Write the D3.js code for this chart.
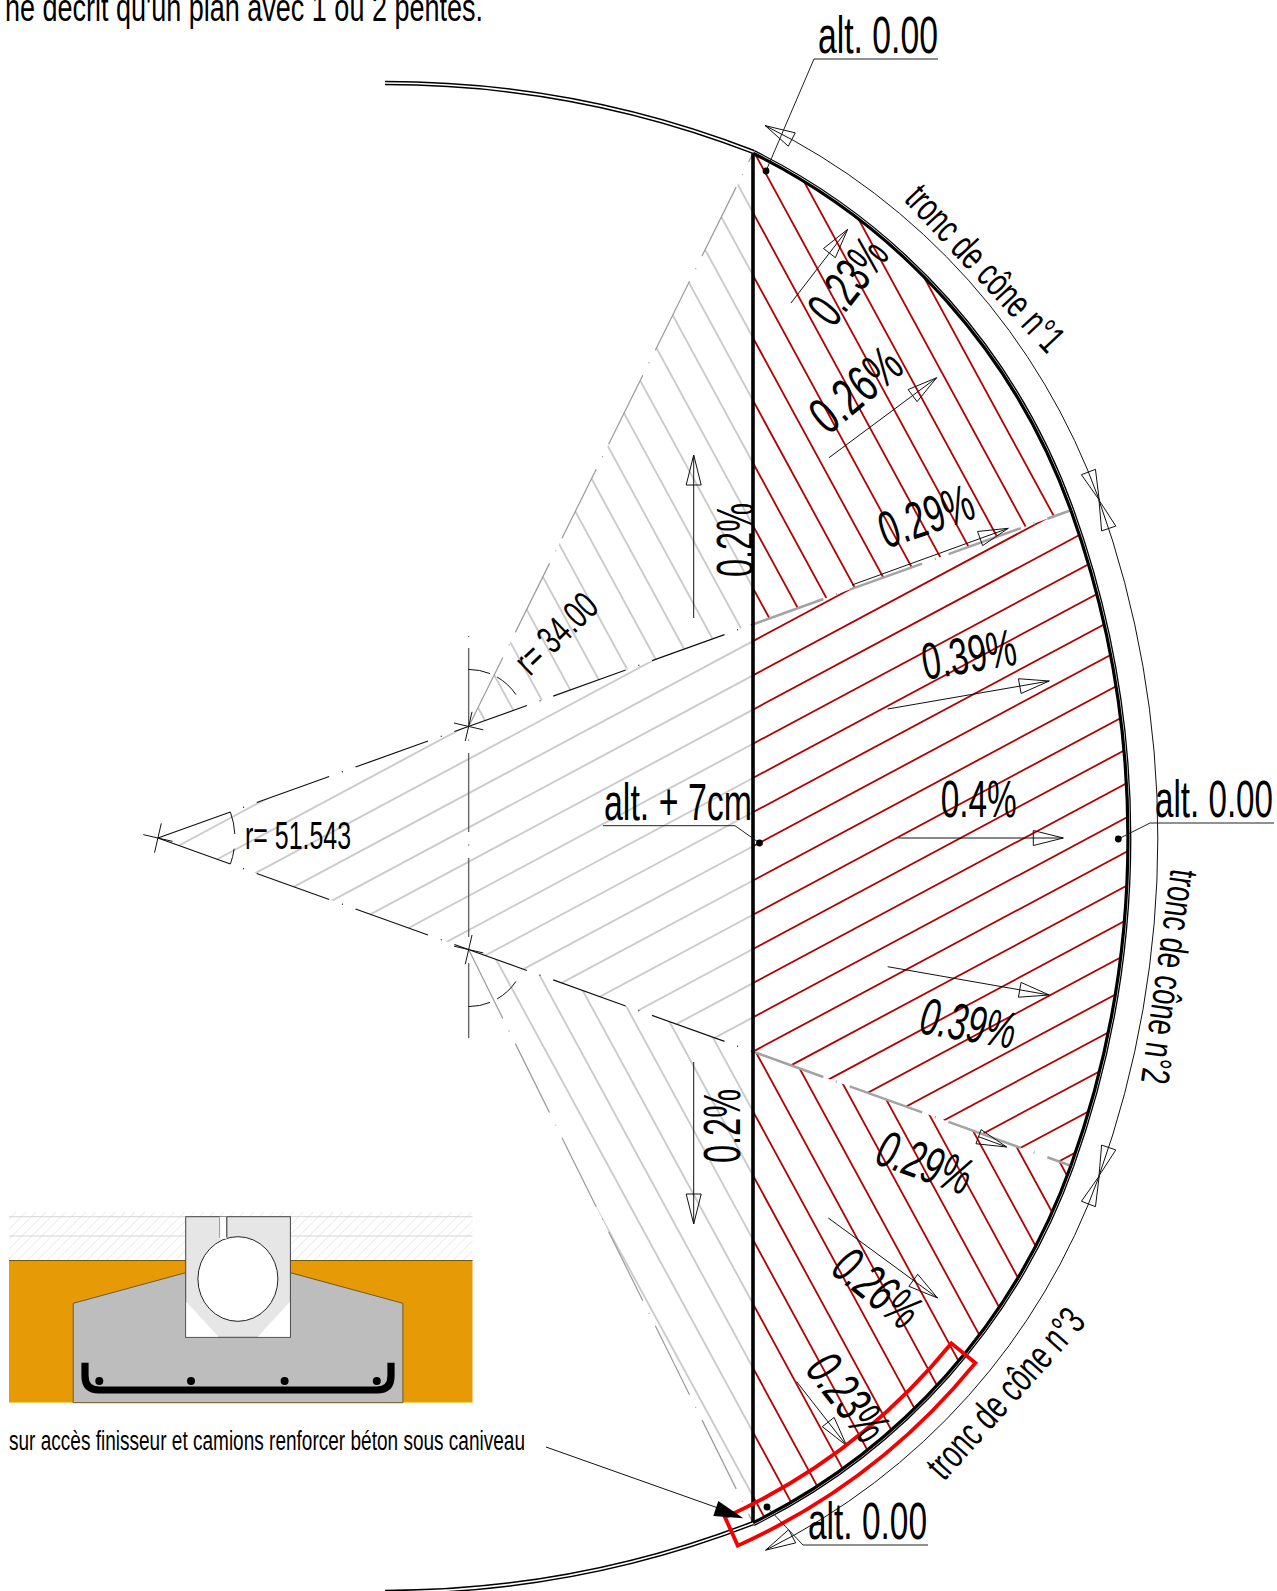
<!DOCTYPE html>
<html><head><meta charset="utf-8">
<script src="https://cdn.jsdelivr.net/npm/d3@7"></script>
<style>html,body{margin:0;padding:0;background:#fff}svg{display:block}
text{font-family:"Liberation Sans Narrow","Liberation Sans",Arial,sans-serif;fill:#000}</style>
</head><body><div id="c"></div><script>
// ---- plan values (metres, origin = crown of the axis, y up) ----
const radii = [51.543, 34.00];
const dimOffsets = [53.13, 35.6];
const apexX = [-31.62];
const slopeTexts = ["0.23%","0.26%","0.29%","0.39%","0.4%","0.39%","0.29%","0.26%","0.23%","0.2%","0.2%"];
const altTexts = ["alt. 0.00","alt. 0.00","alt. 0.00","alt. + 7cm"];
const coneTexts = ["tronc de cône n°1","tronc de cône n°2","tronc de cône n°3"];
const radiusTexts = ["r= 51.543","r= 34.00"];
const noteTexts = ["ne décrit qu'un plan avec 1 ou 2 pentes.","sur accès finisseur et camions renforcer béton sous caniveau"];
// hatch lines: where each crosses the axis (m)
const hatchCentral = [15.92,14.10,12.28,10.46,8.64,6.82,5.01,3.19,1.37,-0.44,-2.26,-4.08,-5.90,-7.71,-9.53,-11.35,-13.16,-14.98,-16.80,-18.62,-20.43,-22.25,-24.07,-25.88,-27.70];
const hatchUpper = [46.52,43.20,39.87,36.55,33.23,29.90,26.58,23.25,19.93,16.60,13.28,9.96,6.63,3.31,-0.02,-3.34,-6.67,-9.99,-13.32,-16.64,-19.96,-23.29];
const hatchLower = [-34.98,-31.57,-28.16,-24.75,-21.34,-17.93,-14.52,-11.10,-7.69,-4.28,-0.87,2.54,5.95,9.36,12.77];
const slopeCentral = [-0.535], slopeSector = [1.84];

const W=1277,H=1591;
const px=18.82;
const x=d3.scaleLinear().domain([0,1]).range([753,753+px]);
const y=d3.scaleLinear().domain([0,1]).range([838,838-px]);
const len=d3.scaleLinear().domain([0,1]).range([0,px]);
const svg=d3.select("#c").append("svg").attr("width",W).attr("height",H).attr("viewBox",`0 0 ${W} ${H}`);
const defs=svg.append("defs");

const R1=len(radii[0]),R2=len(radii[1]);
const half=19.75*Math.PI/180;
const A={x:x(apexX[0]),y:y(0)};
const dc=R1-R2;
const C1={x:A.x+dc*Math.cos(half),y:A.y-dc*Math.sin(half)};
const C2={x:C1.x,y:A.y+dc*Math.sin(half)};
const J1={x:A.x+R1*Math.cos(half),y:A.y-R1*Math.sin(half)};
const J2={x:J1.x,y:A.y+R1*Math.sin(half)};
const axisX=x(0);
const dy=Math.sqrt(R2*R2-(axisX-C1.x)**2);
const T1={x:axisX,y:C1.y-dy},T2={x:axisX,y:C2.y+dy};
const ang=(c,p)=>Math.atan2(p.y-c.y,p.x-c.x);

function sectorPath(){
  const p=d3.path();p.moveTo(A.x,A.y);p.lineTo(J1.x,J1.y);p.arc(A.x,A.y,R1,-half,half);p.closePath();return p.toString();}
function upperPath(){
  const p=d3.path();p.moveTo(C1.x,C1.y);p.lineTo(T1.x,T1.y);p.arc(C1.x,C1.y,R2,ang(C1,T1),ang(C1,J1));p.closePath();return p.toString();}
function lowerPath(){
  const p=d3.path();p.moveTo(C2.x,C2.y);p.lineTo(J2.x,J2.y);p.arc(C2.x,C2.y,R2,ang(C2,J2),ang(C2,T2));p.closePath();return p.toString();}
const clips=[["cC",sectorPath()],["cU",upperPath()],["cL",lowerPath()]];
clips.forEach(([id,d])=>defs.append("clipPath").attr("id",id).append("path").attr("d",d));
defs.append("clipPath").attr("id","rightSide").append("rect").attr("x",axisX).attr("y",0).attr("width",W).attr("height",H);
defs.append("clipPath").attr("id","leftSide").append("rect").attr("x",0).attr("y",0).attr("width",axisX).attr("height",H);

function hatch(values,slope,clip){
  [["leftSide","#cbcbcb",1.9],["rightSide","#b30000",1.8]].forEach(([side,col,w])=>{
    svg.append("g").attr("clip-path",`url(#${side})`).append("g").attr("clip-path",`url(#${clip})`)
      .selectAll("line").data(values).join("line")
      .attr("x1",-400).attr("x2",1700)
      .attr("y1",d=>y(d)+slope*(-400-axisX))
      .attr("y2",d=>y(d)+slope*(1700-axisX))
      .attr("stroke",col).attr("stroke-width",w);
  });
}
hatch(hatchCentral,slopeCentral[0],"cC");
hatch(hatchUpper,slopeSector[0],"cU");
hatch(hatchLower,slopeSector[0],"cL");

// fan boundaries (dash-dot)
const dashFan="77 13.5 1 13.5";
[[A,J1],[A,J2]].forEach(([a,b])=>{
  svg.append("line").attr("clip-path","url(#leftSide)").attr("x1",a.x).attr("y1",a.y).attr("x2",b.x).attr("y2",b.y)
    .attr("stroke","#111").attr("stroke-width",1.2).attr("stroke-dasharray",dashFan);
  svg.append("line").attr("clip-path","url(#rightSide)").attr("x1",a.x).attr("y1",a.y).attr("x2",b.x).attr("y2",b.y)
    .attr("stroke","#a3a3a3").attr("stroke-width",2.6).attr("stroke-dasharray",dashFan);
});
[[C1,T1],[C2,T2]].forEach(([a,b])=>{
  svg.append("line").attr("x1",a.x).attr("y1",a.y).attr("x2",b.x).attr("y2",b.y)
    .attr("stroke","#9a9a9a").attr("stroke-width",1.2).attr("stroke-dasharray",dashFan);
});
// centre line of the two small radii
svg.append("line").attr("x1",C1.x).attr("x2",C1.x).attr("y1",648).attr("y2",1038)
  .attr("stroke","#666").attr("stroke-width",1.4).attr("stroke-dasharray","79 12.5 1 12.5");
svg.append("line").attr("x1",C1.x).attr("x2",C1.x).attr("y1",636).attr("y2",637).attr("stroke","#666").attr("stroke-width",1.3);

// crosses
[A,C1,C2].forEach(c=>{
  const a=13*Math.PI/180,r=15;
  [[Math.cos(a),Math.sin(a)],[-Math.sin(a),Math.cos(a)]].forEach(([u,v])=>{
    svg.append("line").attr("x1",c.x-u*r).attr("y1",c.y-v*r).attr("x2",c.x+u*r).attr("y2",c.y+v*r).attr("stroke","#111").attr("stroke-width",1);
  });
});
// angle marks
function thinArc(c,r,a0,a1,col){
  const p=d3.path();const k=Math.PI/180;p.arc(c.x,c.y,r,a0*k,a1*k);
  svg.append("path").attr("d",p.toString()).attr("fill","none").attr("stroke",col||"#111").attr("stroke-width",1);
}
thinArc(A,77,-19.7,-3);thinArc(A,77,8,19.7);
thinArc(C1,57,-90,-68);thinArc(C1,57,-60,-34);
thinArc(C2,57,34,60);thinArc(C2,57,68,90);

// axis
svg.append("line").attr("x1",axisX).attr("x2",axisX).attr("y1",T1.y).attr("y2",T2.y).attr("stroke","#000").attr("stroke-width",3.6);

// kerb: main thick line plus a thin outer line
function arcR(c,r,p1,p2){const p=d3.path();p.arc(c.x,c.y,r,ang(c,p1),ang(c,p2));return p.toString();}
[[C1,R2,T1,J1],[A,R1,J1,J2],[C2,R2,J2,T2]].forEach(([c,r,a,b])=>{
  svg.append("path").attr("d",arcR(c,r,a,b)).attr("fill","none").attr("stroke","#000").attr("stroke-width",3.2);
  svg.append("path").attr("d",arcR(c,r+2.8,a,b)).attr("fill","none").attr("stroke","#000").attr("stroke-width",1.3);
});
// tails of the kerb to the left
const r3=1019;
[[1,83],[-1,1592]].forEach(([s,y0])=>{
  const cc={x:385,y:y0+s*r3};
  const p=d3.path();
  const start=s>0?-Math.PI/2:Math.PI/2;
  const end=Math.atan2((s>0?T1.y:T2.y)-cc.y,axisX-cc.x);
  p.arc(cc.x,cc.y,r3,start,end,s<0);
  svg.append("path").attr("d",p.toString()).attr("fill","none").attr("stroke","#000").attr("stroke-width",4.6);
  svg.append("path").attr("d",p.toString()).attr("fill","none").attr("stroke","#fff").attr("stroke-width",1.6);
});

// dimension arcs and arrowheads
function head(tip,dirx,diry,color){
  const n=Math.hypot(dirx,diry),u=dirx/n,v=diry/n,l=30,w=7.5;
  const bx=tip.x-u*l,by=tip.y-v*l;
  svg.append("polygon").attr("points",[[tip.x,tip.y],[bx-v*w,by+u*w],[bx+v*w,by-u*w]].map(d=>d.join(",")).join(" "))
    .attr("fill","#fff").attr("fill-opacity",0).attr("stroke",color||"#111").attr("stroke-width",1);
}
const ru=len(dimOffsets[1]),rc=len(dimOffsets[0]);
function dimArc(c,r,a0,a1){
  const p=d3.path();p.arc(c.x,c.y,r,a0,a1);
  svg.append("path").attr("d",p.toString()).attr("fill","none").attr("stroke","#111").attr("stroke-width",1);
  const tip0={x:c.x+r*Math.cos(a0),y:c.y+r*Math.sin(a0)};
  const tip1={x:c.x+r*Math.cos(a1),y:c.y+r*Math.sin(a1)};
  const d=30/r;
  head(tip0,tip0.x-(c.x+r*Math.cos(a0+d)),tip0.y-(c.y+r*Math.sin(a0+d)));
  head(tip1,tip1.x-(c.x+r*Math.cos(a1-d)),tip1.y-(c.y+r*Math.sin(a1-d)));
}
const P1={x:766,y:124},P2={x:766,y:1551};
const Q1={x:A.x+rc*Math.cos(half),y:A.y-rc*Math.sin(half)},Q2={x:Q1.x,y:A.y+rc*Math.sin(half)};
dimArc(C1,ru,ang(C1,P1),ang(C1,Q1));
dimArc(A,rc,-half,half);
dimArc(C2,ru,ang(C2,Q2),ang(C2,P2));

// slope arrows
const arrows=[
 [791,303,847.7,229.3],[829,457.7,936.7,377.7],[852,585,1008.3,528.3],
 [887.7,709,1049.3,681],[898.3,838,1063.3,838],[887.7,966.7,1049.3,995],
 [978,1136.5,1006.7,1147],[828.3,1218,937.5,1298],[796.7,1381.7,846.7,1445.7],
 [693.7,618,693.7,455],[693.7,1062,693.7,1224]];
arrows.forEach(([a,b,c,d])=>{
  svg.append("line").attr("x1",a).attr("y1",b).attr("x2",c).attr("y2",d).attr("stroke","#111").attr("stroke-width",1);
  head({x:c,y:d},c-a,d-b);
});

// red section
const ra=d3.arc().innerRadius(623).outerRadius(654).startAngle(129.2*Math.PI/180).endAngle(155.7*Math.PI/180);
svg.append("path").attr("d",ra()).attr("transform",`translate(${C2.x},${C2.y})`).attr("fill","none").attr("stroke","#f50000").attr("stroke-width",3.8);

// leaders + dots
[[814,59,766,171,938],[1150,823,1118.3,839,1274],[803,1545,767,1507,928],[735,825.7,759.5,843,603]].forEach(([a,b,c,d,e])=>{
  svg.append("polyline").attr("points",`${e},${b} ${a},${b} ${c},${d}`).attr("fill","none").attr("stroke","#222").attr("stroke-width",1);
  svg.append("circle").attr("cx",c).attr("cy",d).attr("r",3.4).attr("fill","#000");
});
// pointer arrow
svg.append("line").attr("x1",546).attr("y1",1447).attr("x2",735).attr("y2",1514).attr("stroke","#111").attr("stroke-width",1);
svg.append("polygon").attr("points","743.3,1518.3 718.3,1501 713.3,1516").attr("fill","#000");

// labels
function label(t,xx,yy,rot,w,size,it){
  svg.append("text").attr("transform",`translate(${xx},${yy}) rotate(${rot})`).attr("font-size",size)
    .attr("font-style",it?"italic":"normal").attr("textLength",w).attr("lengthAdjust","spacingAndGlyphs").text(t);
}
const slopePlaces=[[833,329,-52,94,52,0],[828,436,-40,102,52,0],[886,549,-19,97,52,0],[925,680,-9.5,95,52,0],[940.7,816.7,0,76,52,0],
 [918,1033,9.5,96,52,1],[873,1163,19.7,97,52,1],[829,1272,39,95,52,1],[804,1370,52,97,52,1],[752.7,577,-90,74,52,0],[740,1163,-90,74,52,0]];
slopeTexts.forEach((t,i)=>label(t,...slopePlaces[i]));
const altPlaces=[[818,52.7,0,120,52],[1155,816.7,0,118,52],[808,1539,0,119,52],[604,820,0,148,52]];
altTexts.forEach((t,i)=>label(t,...altPlaces[i]));
const conePlaces=[[903,200,47,212,40],[1171,868,98,216,40],[944,1482,-48,214,40]];
coneTexts.forEach((t,i)=>label(t,...conePlaces[i]));
label(radiusTexts[0],245,849,0,106,39);
label(radiusTexts[1],530,677,-44,98,39);
label(noteTexts[0],5,21,0,478,38);
label(noteTexts[1],9,1449.5,0,516,27);

// inset: channel section
const inset=svg.append("g");
const pat=defs.append("pattern").attr("id","pale").attr("width",7).attr("height",7).attr("patternUnits","userSpaceOnUse").attr("patternTransform","rotate(45)");
pat.append("line").attr("x1",0).attr("y1",0).attr("x2",0).attr("y2",7).attr("stroke","#ececec").attr("stroke-width",2);
inset.append("rect").attr("x",9).attr("y",1212).attr("width",463.5).attr("height",48).attr("fill","url(#pale)");
[1216.7,1236].forEach(v=>inset.append("line").attr("x1",9).attr("x2",472.5).attr("y1",v).attr("y2",v).attr("stroke","#d5d5d5").attr("stroke-width",1));
inset.append("rect").attr("x",9).attr("y",1260).attr("width",463.5).attr("height",142.7).attr("fill","#e69a05");
inset.append("line").attr("x1",9).attr("x2",472.5).attr("y1",1260.5).attr("y2",1260.5).attr("stroke","#6b5a10").attr("stroke-width",1);
inset.append("line").attr("x1",9).attr("x2",472.5).attr("y1",1402.5).attr("y2",1402.5).attr("stroke","#f0d060").attr("stroke-width",1);
inset.append("polygon").attr("points","73.2,1402.7 73.2,1303.3 185.7,1272.7 290.4,1272.7 402.9,1303.3 402.9,1402.7")
  .attr("fill","#bdbdbd").attr("stroke","#6b5a2a").attr("stroke-width",1);
inset.append("rect").attr("x",185.7).attr("y",1216.7).attr("width",104.7).attr("height",120.6).attr("fill","#e6e6e6").attr("stroke","#444").attr("stroke-width",1);
inset.append("polygon").attr("points","186.3,1301.7 218.6,1336.7 186.3,1336.7").attr("fill","#fff");
inset.append("polygon").attr("points","289.8,1301.7 257.9,1336.7 289.8,1336.7").attr("fill","#fff");
inset.append("ellipse").attr("cx",237.9).attr("cy",1279).attr("rx",40).attr("ry",42.3).attr("fill","#fff").attr("stroke","#222").attr("stroke-width",1);
inset.append("rect").attr("x",219.6).attr("y",1216.7).attr("width",7.2).attr("height",22).attr("fill","#fff");
inset.append("polyline").attr("points","219.6,1217 219.6,1238").attr("fill","none").attr("stroke","#999").attr("stroke-width",1);
inset.append("polyline").attr("points","226.8,1217 226.8,1237.5").attr("fill","none").attr("stroke","#222").attr("stroke-width",1);
inset.append("path").attr("d","M85,1362.7V1376Q85,1390 99,1390H377Q391,1390 391,1376V1362.7").attr("fill","none").attr("stroke","#000").attr("stroke-width",7.2);
const rebarDots=[99.3,191,284.6,376.8];
inset.selectAll("circle").data(rebarDots).join("circle").attr("cx",d=>d).attr("cy",1381).attr("r",4).attr("fill","#000");
</script></body></html>
